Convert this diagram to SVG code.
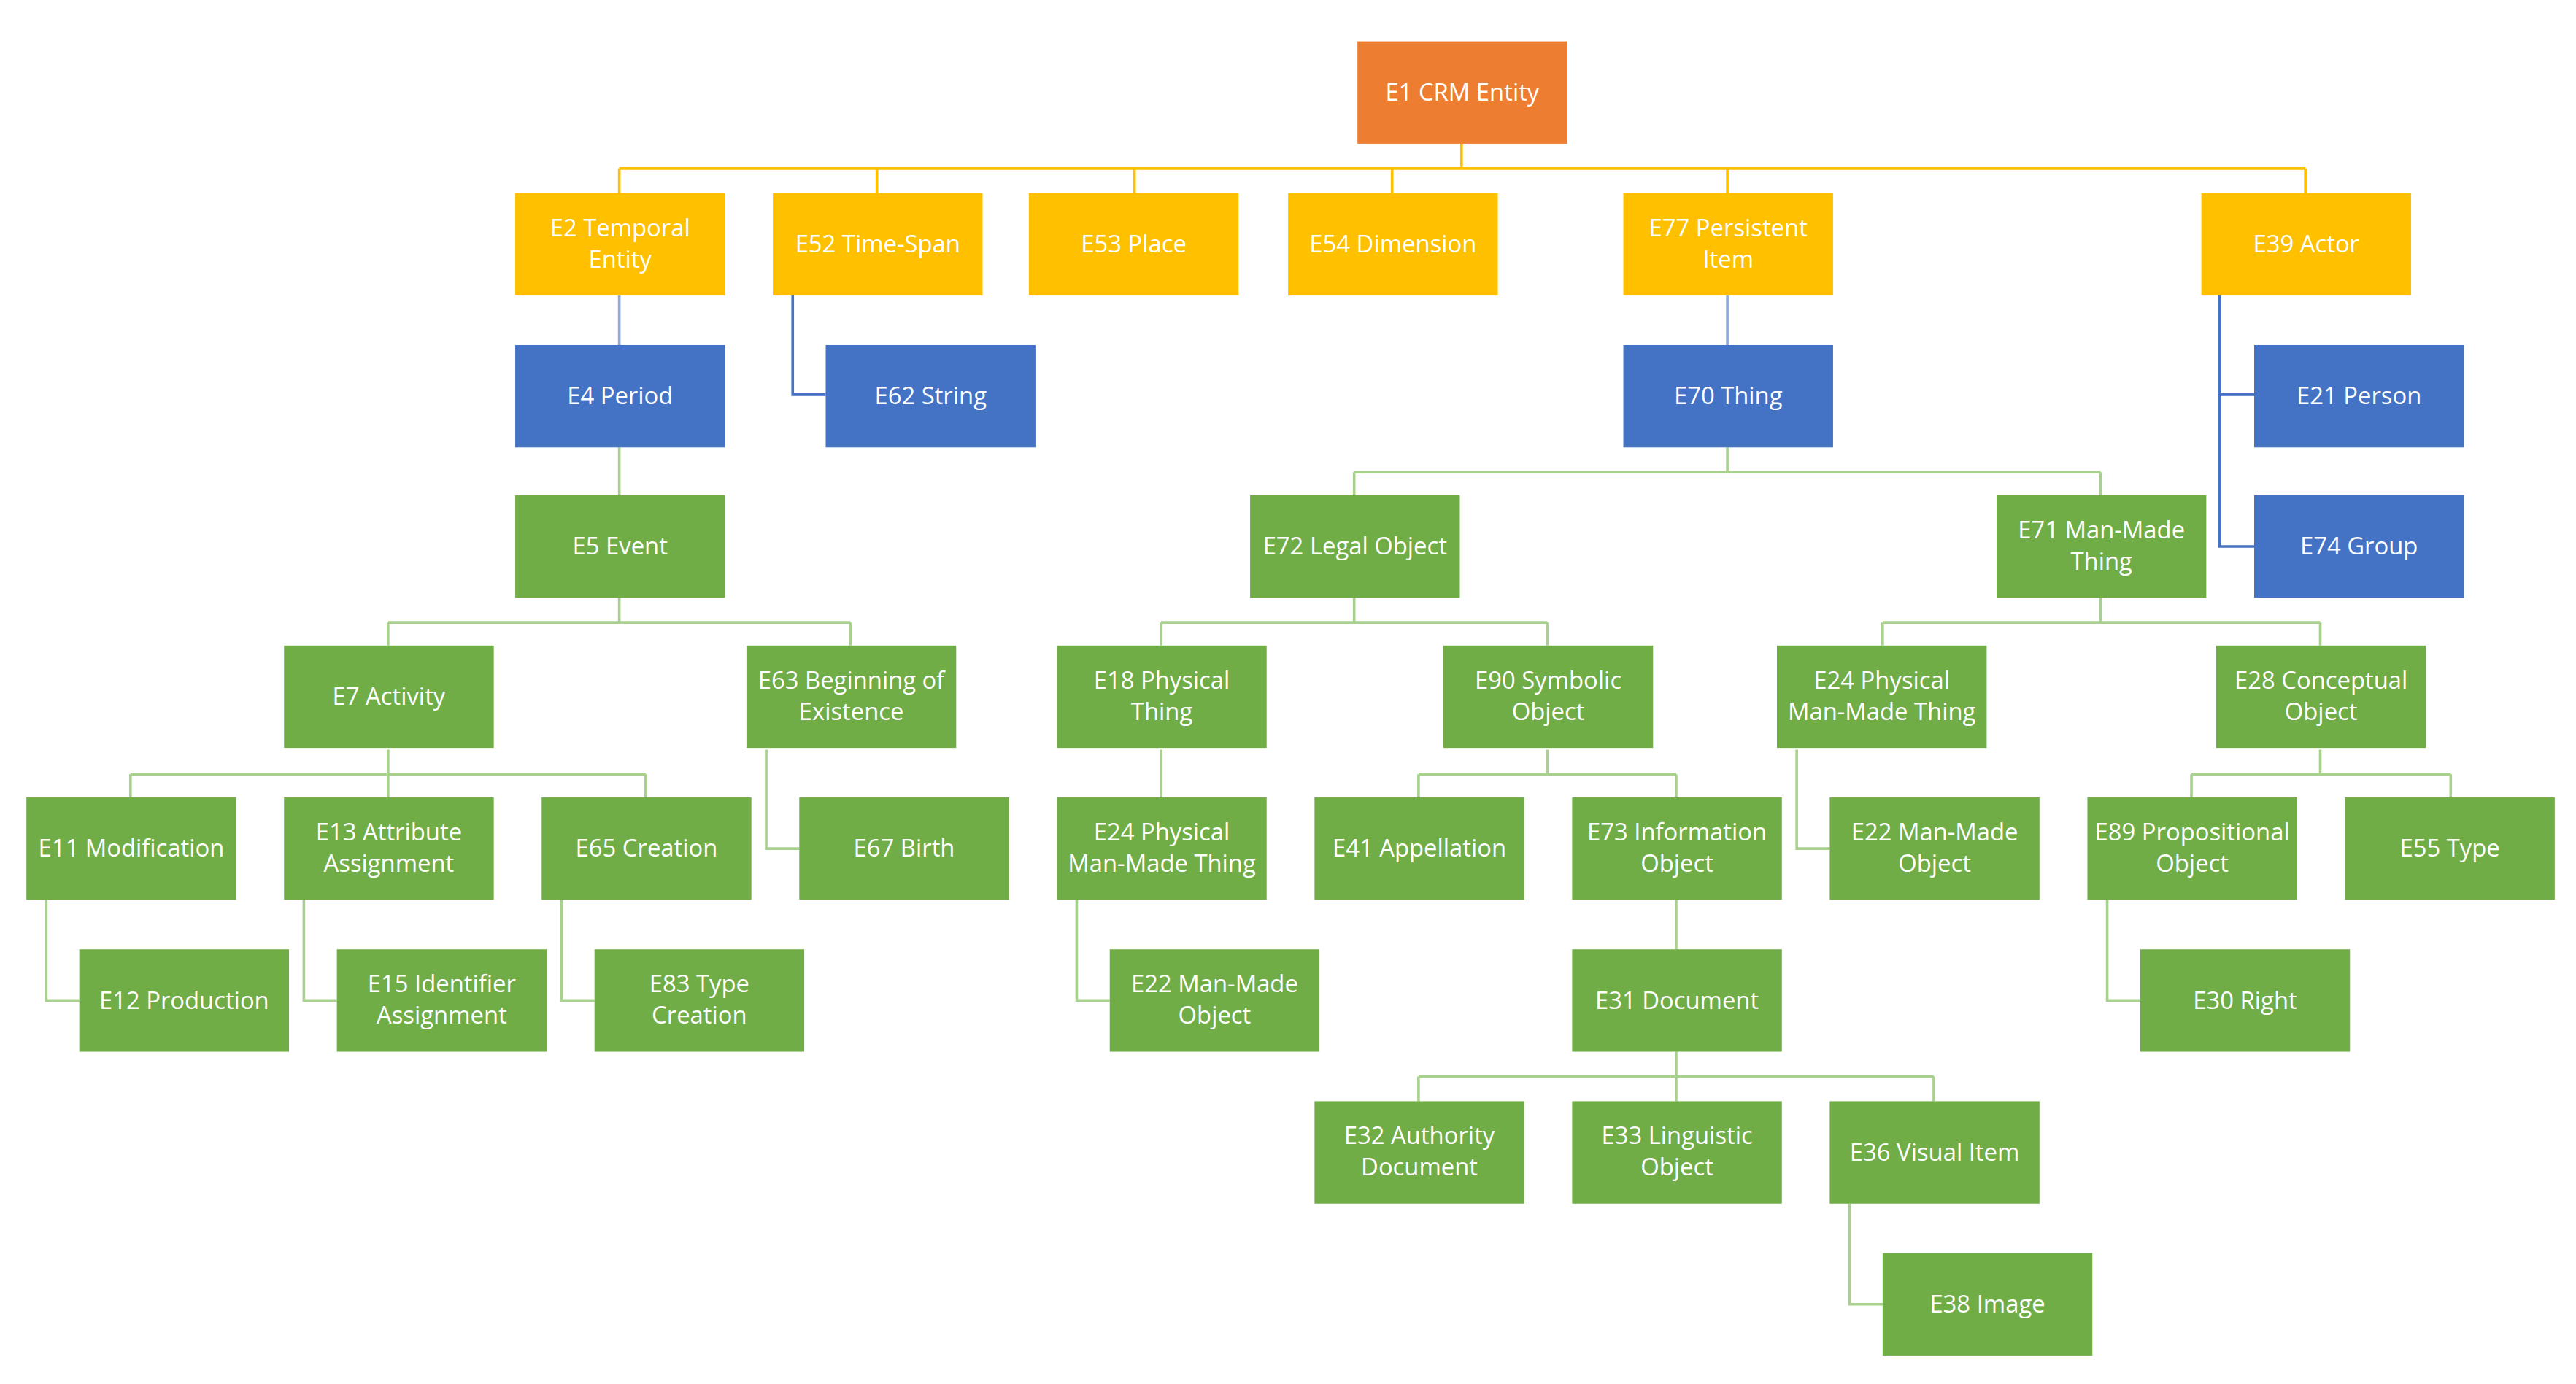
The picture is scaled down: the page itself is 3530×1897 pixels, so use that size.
<svg xmlns="http://www.w3.org/2000/svg" width="3530" height="1897" viewBox="0 0 3530 1897">
<style>
.n rect{width:127px;height:62px}
.o{fill:#ED7D31}.y{fill:#FFC000}.b{fill:#4472C4}.g{fill:#70AD47}
text{font-family:"Open Sans","Liberation Sans",sans-serif;font-size:14.5px;fill:#fff;text-anchor:middle}
.c path{fill:none;stroke-width:1.6}
.cy{stroke:#FFC000}.cb{stroke:#8EA9DB}.cd{stroke:#4472C4}.cg{stroke:#A9D18E}
</style>
<rect width="3530" height="1897" fill="#fff"/>
<g transform="scale(2.263)">
<g id="connectors" class="c">
<path class="cy" d="M885 87V102M375 102H1396M375 102V117M531 102V117M687 102V117M843 102V117M1046 102V117M1396 102V117"/>
<path class="cb" d="M375 179V209M1046 179V209"/>
<path class="cd" d="M480 179V239H500M1344 179V331H1365M1344 239H1365"/>
<path class="cg" d="M375 271V300"/>
<path class="cg" d="M1046 271V286M820 286H1272M820 286V300M1272 286V300"/>
<path class="cg" d="M375 362V377M235 377H515M235 377V391M515 377V391"/>
<path class="cg" d="M820 362V377M703 377H937M703 377V391M937 377V391"/>
<path class="cg" d="M1272 362V377M1140 377H1405M1140 377V391M1405 377V391"/>
<path class="cg" d="M235 454V469M79 469H391M79 469V483M235 469V483M391 469V483"/>
<path class="cg" d="M464 454V514H484M703 454V483M1088 454V514H1108"/>
<path class="cg" d="M937 454V469M859 469H1015M859 469V483M1015 469V483"/>
<path class="cg" d="M1405 454V469M1327 469H1484M1327 469V483M1484 469V483"/>
<path class="cg" d="M28 545V606H48M184 545V606H204M340 545V606H360M652 545V606H672M1276 545V606H1296"/>
<path class="cg" d="M1015 545V575"/>
<path class="cg" d="M1015 637V652M859 652H1171M859 652V667M1015 652V667M1171 652V667"/>
<path class="cg" d="M1120 729V790H1140"/>
</g>
<g class="n">
<g id="E1"><rect class="o" x="822" y="25"/><text x="885.5" y="61">E1 CRM Entity</text></g>
<g id="E2"><rect class="y" x="312" y="117"/><text x="375.5" y="143">E2 Temporal</text><text x="375.5" y="162">Entity</text></g>
<g id="E52"><rect class="y" x="468" y="117"/><text x="531.5" y="153">E52 Time-Span</text></g>
<g id="E53"><rect class="y" x="623" y="117"/><text x="686.5" y="153">E53 Place</text></g>
<g id="E54"><rect class="y" x="780" y="117"/><text x="843.5" y="153">E54 Dimension</text></g>
<g id="E77"><rect class="y" x="983" y="117"/><text x="1046.5" y="143">E77 Persistent</text><text x="1046.5" y="162">Item</text></g>
<g id="E39"><rect class="y" x="1333" y="117"/><text x="1396.5" y="153">E39 Actor</text></g>
<g id="E4"><rect class="b" x="312" y="209"/><text x="375.5" y="245">E4 Period</text></g>
<g id="E62"><rect class="b" x="500" y="209"/><text x="563.5" y="245">E62 String</text></g>
<g id="E70"><rect class="b" x="983" y="209"/><text x="1046.5" y="245">E70 Thing</text></g>
<g id="E21"><rect class="b" x="1365" y="209"/><text x="1428.5" y="245">E21 Person</text></g>
<g id="E5"><rect class="g" x="312" y="300"/><text x="375.5" y="336">E5 Event</text></g>
<g id="E72"><rect class="g" x="757" y="300"/><text x="820.5" y="336">E72 Legal Object</text></g>
<g id="E71"><rect class="g" x="1209" y="300"/><text x="1272.5" y="326">E71 Man-Made</text><text x="1272.5" y="345">Thing</text></g>
<g id="E74"><rect class="b" x="1365" y="300"/><text x="1428.5" y="336">E74 Group</text></g>
<g id="E7"><rect class="g" x="172" y="391"/><text x="235.5" y="427">E7 Activity</text></g>
<g id="E63"><rect class="g" x="452" y="391"/><text x="515.5" y="417">E63 Beginning of</text><text x="515.5" y="436">Existence</text></g>
<g id="E18"><rect class="g" x="640" y="391"/><text x="703.5" y="417">E18 Physical</text><text x="703.5" y="436">Thing</text></g>
<g id="E90"><rect class="g" x="874" y="391"/><text x="937.5" y="417">E90 Symbolic</text><text x="937.5" y="436">Object</text></g>
<g id="E24a"><rect class="g" x="1076" y="391"/><text x="1139.5" y="417">E24 Physical</text><text x="1139.5" y="436">Man-Made Thing</text></g>
<g id="E28"><rect class="g" x="1342" y="391"/><text x="1405.5" y="417">E28 Conceptual</text><text x="1405.5" y="436">Object</text></g>
<g id="E11"><rect class="g" x="16" y="483"/><text x="79.5" y="519">E11 Modification</text></g>
<g id="E13"><rect class="g" x="172" y="483"/><text x="235.5" y="509">E13 Attribute</text><text x="235.5" y="528">Assignment</text></g>
<g id="E65"><rect class="g" x="328" y="483"/><text x="391.5" y="519">E65 Creation</text></g>
<g id="E67"><rect class="g" x="484" y="483"/><text x="547.5" y="519">E67 Birth</text></g>
<g id="E24b"><rect class="g" x="640" y="483"/><text x="703.5" y="509">E24 Physical</text><text x="703.5" y="528">Man-Made Thing</text></g>
<g id="E41"><rect class="g" x="796" y="483"/><text x="859.5" y="519">E41 Appellation</text></g>
<g id="E73"><rect class="g" x="952" y="483"/><text x="1015.5" y="509">E73 Information</text><text x="1015.5" y="528">Object</text></g>
<g id="E22a"><rect class="g" x="1108" y="483"/><text x="1171.5" y="509">E22 Man-Made</text><text x="1171.5" y="528">Object</text></g>
<g id="E89"><rect class="g" x="1264" y="483"/><text x="1327.5" y="509">E89 Propositional</text><text x="1327.5" y="528">Object</text></g>
<g id="E55"><rect class="g" x="1420" y="483"/><text x="1483.5" y="519">E55 Type</text></g>
<g id="E12"><rect class="g" x="48" y="575"/><text x="111.5" y="611">E12 Production</text></g>
<g id="E15"><rect class="g" x="204" y="575"/><text x="267.5" y="601">E15 Identifier</text><text x="267.5" y="620">Assignment</text></g>
<g id="E83"><rect class="g" x="360" y="575"/><text x="423.5" y="601">E83 Type</text><text x="423.5" y="620">Creation</text></g>
<g id="E22b"><rect class="g" x="672" y="575"/><text x="735.5" y="601">E22 Man-Made</text><text x="735.5" y="620">Object</text></g>
<g id="E31"><rect class="g" x="952" y="575"/><text x="1015.5" y="611">E31 Document</text></g>
<g id="E30"><rect class="g" x="1296" y="575"/><text x="1359.5" y="611">E30 Right</text></g>
<g id="E32"><rect class="g" x="796" y="667"/><text x="859.5" y="693">E32 Authority</text><text x="859.5" y="712">Document</text></g>
<g id="E33"><rect class="g" x="952" y="667"/><text x="1015.5" y="693">E33 Linguistic</text><text x="1015.5" y="712">Object</text></g>
<g id="E36"><rect class="g" x="1108" y="667"/><text x="1171.5" y="703">E36 Visual Item</text></g>
<g id="E38"><rect class="g" x="1140" y="759"/><text x="1203.5" y="795">E38 Image</text></g>
</g>
</g>
</svg>
